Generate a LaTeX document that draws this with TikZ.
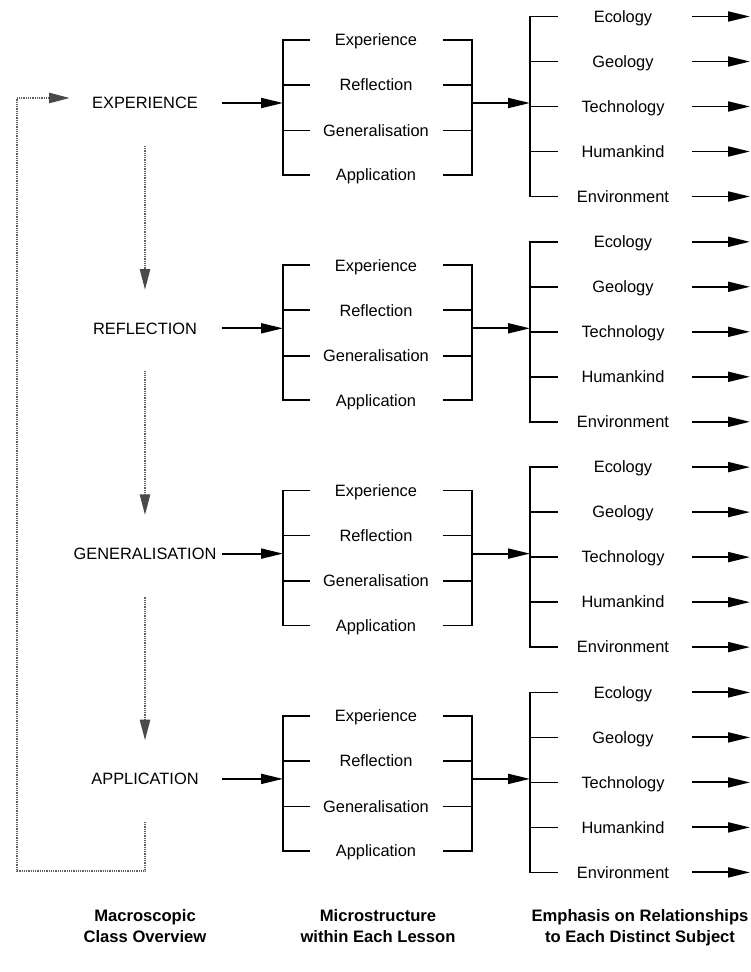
\documentclass[tikz,border=0pt]{standalone}
\usepackage{fontspec}
\setmainfont{Liberation Sans}
\usetikzlibrary{arrows.meta}
\definecolor{dotgray}{HTML}{606060}
\definecolor{tipgray}{HTML}{4A4A4A}
\begin{document}
\begin{tikzpicture}[x=1pt,y=-1pt,
  lbl/.style={font=\fontsize{16.4}{19}\selectfont, inner sep=0pt, text height=11.7pt, text depth=0pt, anchor=center},
  foot/.style={font=\fontsize{16.6}{19}\selectfont\bfseries, inner sep=0pt, text height=11.8pt, text depth=0pt, anchor=center},
  brk/.style={line width=1.7pt, line join=miter},
  arr/.style={line width=1.9pt, -{Triangle[length=22pt,width=10pt]}},
  dotline/.style={draw=dotgray, line width=2.6pt, dash pattern=on 1pt off 0.8pt},
  dotarr/.style={dotline, -{Triangle[length=21pt,width=10pt,color=tipgray,fill=tipgray]}}
]
\useasboundingbox (0,0) rectangle (751,972);

\foreach \g/\name in {0/EXPERIENCE,1/REFLECTION,2/GENERALISATION,3/APPLICATION}{
  \pgfmathsetmacro\y{103+225.3*\g}
  % macroscopic label
  \node[lbl] (L\g) at (145,\y) {\name};
  \coordinate (as\g) at (222,\y);
  \coordinate (ml\g) at (283,\y);
  \coordinate (mr\g) at (472,\y);
  \coordinate (sl\g) at (530,\y);
  \draw[arr] (as\g) -- (ml\g);
  \draw[arr] (mr\g) -- (sl\g);
  % middle brackets
  \draw[brk] (310,\y-63) -- (283,\y-63) -- (283,\y+72) -- (310,\y+72);
  \draw[brk] (443,\y-63) -- (472,\y-63) -- (472,\y+72) -- (443,\y+72);
  \foreach \i/\t [count=\k] in {-63/Experience,-18/Reflection,27.5/Generalisation,72/Application}{
    \node[lbl] (m\g-\k) at (376,\y+\i) {\t};
    \draw[brk] (283,\y+\i) -- (310,\y+\i);
    \draw[brk] (443,\y+\i) -- (472,\y+\i);
  }
  % subject brackets
  \draw[brk] (558,\y-86.5) -- (530,\y-86.5) -- (530,\y+93.5) -- (558,\y+93.5);
  \foreach \i/\t [count=\k] in {-86.5/Ecology,-41.5/Geology,3.5/Technology,48.5/Humankind,93.5/Environment}{
    \node[lbl] (s\g-\k) at (623,\y+\i) {\t};
    \draw[brk] (530,\y+\i) -- (558,\y+\i);
    \coordinate (ta\g-\k) at (692,\y+\i);
    \coordinate (tb\g-\k) at (750,\y+\i);
    \draw[arr] (ta\g-\k) -- (tb\g-\k);
  }
  \coordinate (da\g) at (145,\y+43);
  \coordinate (db\g) at (145,\y+187);
}

% dotted flow arrows
\draw[dotarr] (da0) -- (db0);
\draw[dotarr] (da1) -- (db1);
\draw[dotarr] (da2) -- (db2);
\coordinate (lp1) at (145,871);
\coordinate (lp2) at (17,871);
\coordinate (lp3) at (17,98);
\coordinate (lp4) at (70,98);
\draw[dotarr] (da3) -- (lp1) -- (lp2) -- (lp3) -- (lp4);

% footer labels
\node[foot] (f1a) at (145,916) {Macroscopic};
\node[foot] (f1b) at (145,937) {Class Overview};
\node[foot] (f2a) at (378,916) {Microstructure};
\node[foot] (f2b) at (378,937) {within Each Lesson};
\node[foot] (f3a) at (640,916) {Emphasis on Relationships};
\node[foot] (f3b) at (640,937) {to Each Distinct Subject};
\end{tikzpicture}
\end{document}
